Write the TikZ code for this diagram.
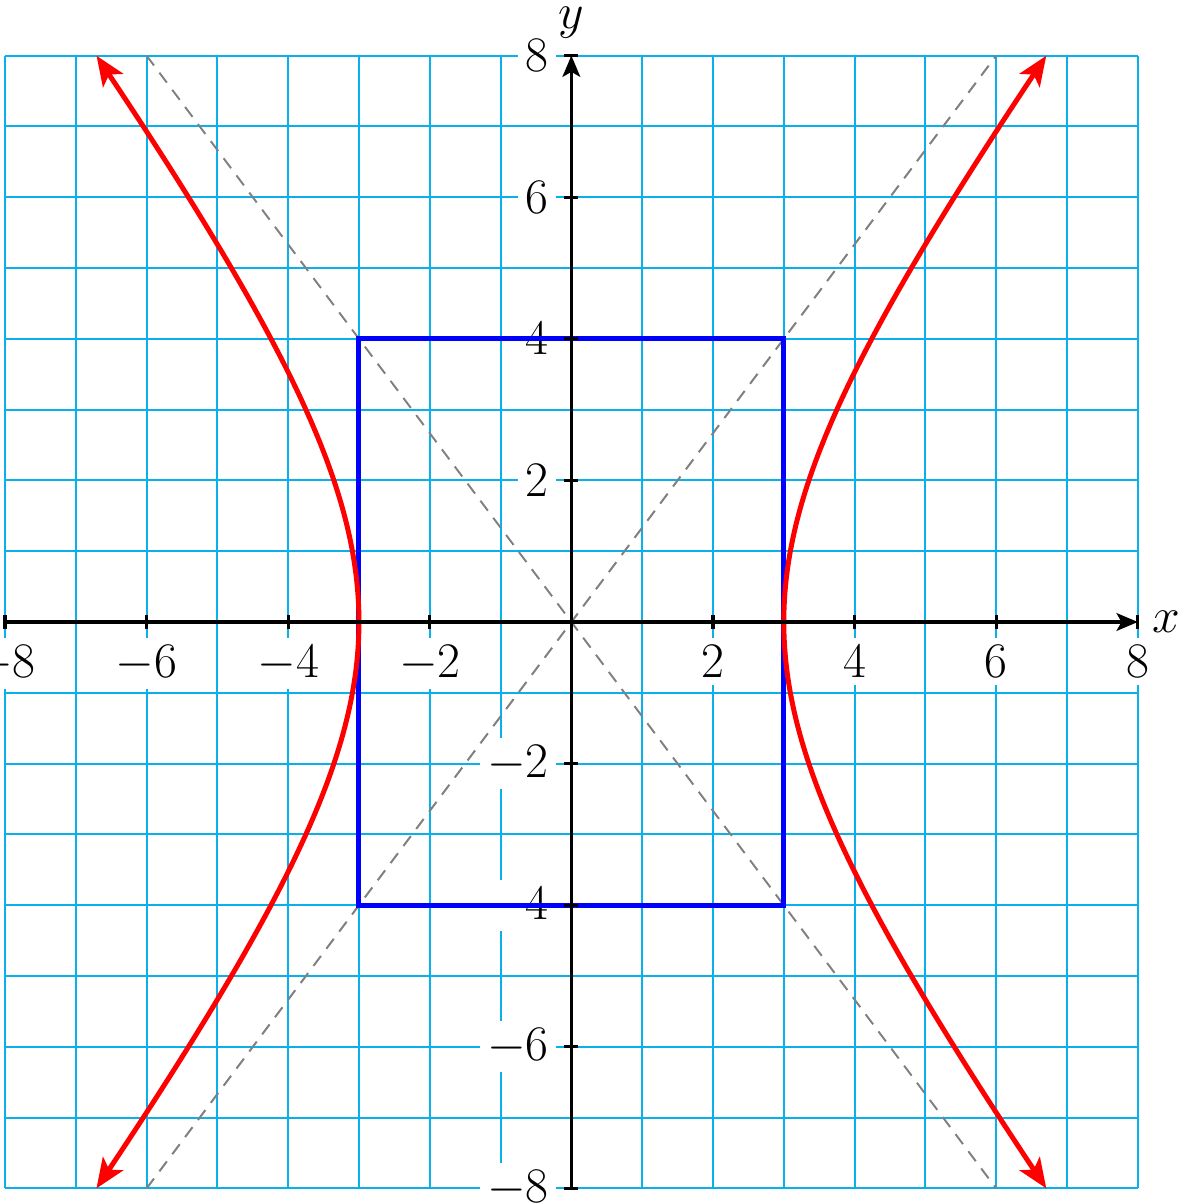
\RequirePackage{fix-cm}
\documentclass[tikz,border=0pt]{standalone}
\usepackage{amsmath}
\usepackage{tikz}
\usetikzlibrary{arrows.meta}

\begin{document}
\begin{tikzpicture}[x=1cm,y=1cm,
  gridline/.style={draw=gridcyan,line width=.8pt},
  ticklab/.style={fill=white,inner sep=3pt,font=\fontsize{20}{24}\selectfont},
  axisline/.style={line width=1.3pt,draw=black,-{Stealth[length=.3cm,width=.25cm,inset=.07cm]}},
  tickmark/.style={line width=1.3pt,draw=black},
  asym/.style={draw=black!50,line width=.8pt,dash pattern=on 5pt off 3.6pt},
  boxline/.style={draw=blue,line width=2pt},
  curve/.style={draw=red,line width=2pt,{Stealth[length=.42cm,width=.34cm,inset=.1cm]}-{Stealth[length=.42cm,width=.34cm,inset=.1cm]}}]
\definecolor{gridcyan}{RGB}{10,176,236}
\useasboundingbox (-8.07,-8.22) rectangle (8.71,8.785);
% grid
\draw[gridline] (-8,-8) grid (8,8);
% tick labels
\foreach \v [count=\i] in {-8,-6,-4,-2,2,4,6,8}{
  \node[ticklab,anchor=north] (xt\i) at (\v,-.22) {$\v$};
  \node[ticklab,anchor=east] (yt\i) at (-.21,\v) {$\v$};
}
% asymptotes and box
\draw[asym] (-6,-8) -- (6,8);
\draw[asym] (-6,8) -- (6,-8);
\draw[boxline] (-3,-4) rectangle (3,4);
% hyperbola x^2/9 - y^2/16 = 1
\draw[curve] plot[domain=-1.44364:1.44364,samples=120,smooth,variable=\t] ({3*cosh(\t)},{4*sinh(\t)});
\draw[curve] plot[domain=-1.44364:1.44364,samples=120,smooth,variable=\t] ({-3*cosh(\t)},{4*sinh(\t)});
% axes
\coordinate (xmin) at (-8,0);
\coordinate (xmax) at (8,0);
\coordinate (ymin) at (0,-8);
\coordinate (ymax) at (0,8);
\draw[axisline] (xmin) -- (xmax);
\draw[axisline] (ymin) -- (ymax);
\foreach \v in {-8,-6,-4,-2,2,4,6,8}{
  \draw[tickmark] (\v,-.1) -- (\v,.1);
  \draw[tickmark] (-.1,\v) -- (.1,\v);
}
\node[font=\fontsize{20}{24}\selectfont,inner sep=1pt] (xlab) at (8.4,0) {$x$};
\node[font=\fontsize{20}{24}\selectfont,inner sep=1pt] (ylab) at (0,8.46) {$y$};
\end{tikzpicture}
\end{document}
